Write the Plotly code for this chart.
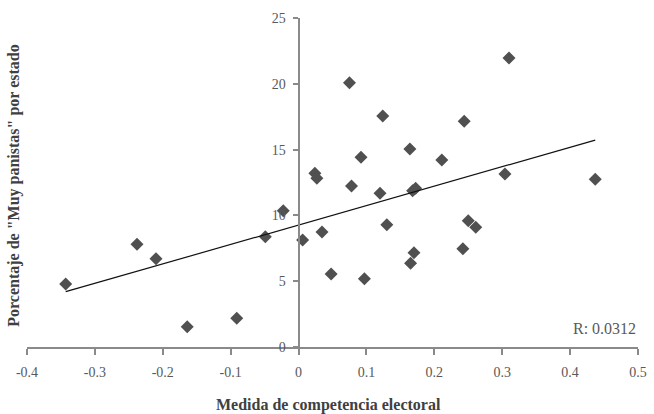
import numpy as np
import plotly.graph_objects as go

# Electoral competitiveness per state vs. share of "Muy panistas"
competencia = [-0.343, -0.238, -0.210, -0.164, -0.091, -0.049, -0.0225, 0.006,
               0.0345, 0.048, 0.097, 0.130, 0.165, 0.170, 0.242, 0.250,
               0.261, 0.075, 0.310, 0.124, 0.244, 0.164, 0.092, 0.211,
               0.024, 0.027, 0.078, 0.120, 0.168, 0.1725, 0.304, 0.437]
muy_panistas = [4.79, 7.80, 6.71, 1.54, 2.18, 8.38, 10.36, 8.13,
                8.74, 5.55, 5.19, 9.29, 6.36, 7.17, 7.47, 9.60,
                9.10, 20.08, 21.96, 17.55, 17.15, 15.05, 14.41, 14.21,
                13.20, 12.82, 12.23, 11.68, 11.88, 12.06, 13.15, 12.74]

x_ticks = [-0.4, -0.3, -0.2, -0.1, 0, 0.1, 0.2, 0.3, 0.4, 0.5]
x_tick_text = ["-0.4", "-0.3", "-0.2", "-0.1", "0", "0.1", "0.2", "0.3", "0.4", "0.5"]
y_ticks = [0, 5, 10, 15, 20, 25]
r_label = "R: 0.0312"

FONT = "Liberation Serif"
AXIS_GREY = "#8a8a8a"

# Linear trend over the observed range
slope, intercept = np.polyfit(competencia, muy_panistas, 1)
x_fit = np.array([min(competencia), max(competencia)])
y_fit = intercept + slope * x_fit

fig = go.Figure()
fig.add_trace(go.Scatter(
    x=competencia, y=muy_panistas, mode="markers",
    marker=dict(symbol="diamond", size=10, color="#505050"),
    showlegend=False,
))
fig.add_trace(go.Scatter(
    x=x_fit, y=y_fit, mode="lines",
    line=dict(color="#111111", width=1.2),
    showlegend=False,
))

x_zero_frac = (0 - x_ticks[0]) / (x_ticks[-1] - x_ticks[0])

fig.update_layout(
    width=654, height=414,
    margin=dict(l=27, r=16, t=18, b=67),
    paper_bgcolor="white", plot_bgcolor="white",
    font=dict(family=FONT, size=14, color="#595959"),
    xaxis=dict(
        range=[x_ticks[0], x_ticks[-1]], tickvals=x_ticks, ticktext=x_tick_text,
        showgrid=False, zeroline=False, showline=True, linecolor=AXIS_GREY,
        linewidth=2, ticks="outside", ticklen=6, tickwidth=2, tickcolor=AXIS_GREY,
        ticklabelstandoff=5, automargin=False,
    ),
    yaxis=dict(
        range=[y_ticks[0], y_ticks[-1]], tickvals=y_ticks,
        showgrid=False, zeroline=False, showline=True, linecolor=AXIS_GREY,
        linewidth=2, ticks="outside", ticklen=5, tickwidth=2, tickcolor=AXIS_GREY,
        anchor="free", position=x_zero_frac, ticklabelstandoff=4, automargin=False,
    ),
    annotations=[
        dict(text="<b>Medida de competencia electoral</b>", xref="paper", yref="paper",
             x=0.493, y=0, yshift=-58, showarrow=False, xanchor="center", yanchor="middle",
             font=dict(family=FONT, size=16, color="#404040")),
        dict(text='<b>Porcentaje de "Muy panistas" por estado</b>', xref="paper", yref="paper",
             x=0, xshift=-13, y=0.49, showarrow=False, textangle=-90,
             xanchor="center", yanchor="middle",
             font=dict(family=FONT, size=16, color="#404040")),
        dict(text=r_label, xref="paper", yref="paper", x=1, y=0, yshift=19,
             showarrow=False, xanchor="right", yanchor="middle",
             font=dict(family=FONT, size=16, color="#595959")),
    ],
)

fig.write_html("out.html")
